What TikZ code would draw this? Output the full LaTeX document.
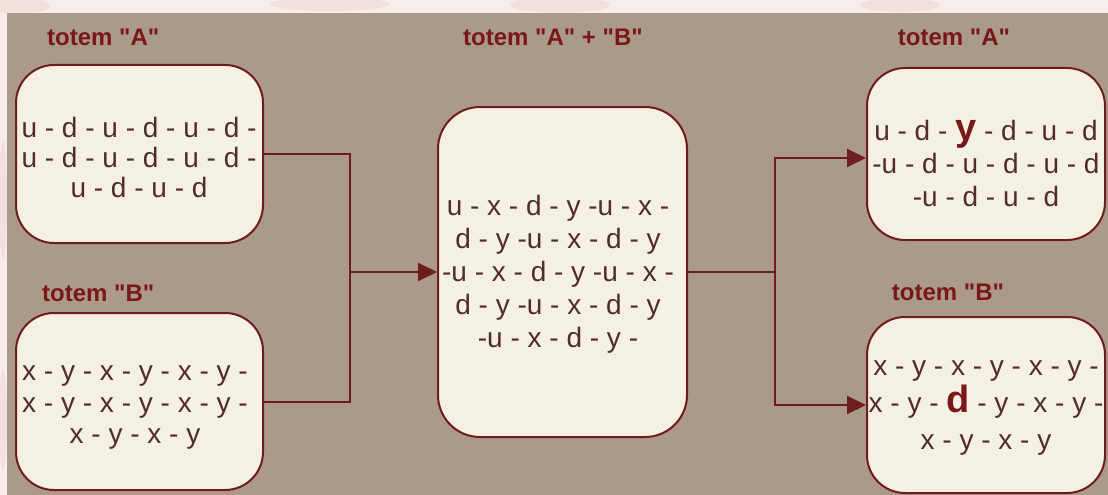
\documentclass[tikz,border=0pt]{standalone}
\usepackage{fontspec}
\setmainfont{Liberation Sans}[Ligatures=TeXOff]
\usetikzlibrary{arrows.meta}
\definecolor{bg}{HTML}{AB9A8A}
\definecolor{paper}{HTML}{F5F0E4}
\definecolor{edgec}{HTML}{6E1C1C}
\definecolor{titlec}{HTML}{7A1818}
\definecolor{ink}{HTML}{522C2A}
\definecolor{strip}{HTML}{F7EEEC}
\definecolor{pinkish}{HTML}{F0D2D0}
\begin{document}
\begin{tikzpicture}[x=1pt,y=-1pt,
  box/.style={draw=edgec, line width=2pt, fill=paper, rounded corners=38pt, inner sep=0pt},
  ttl/.style={font=\fontsize{24}{28}\selectfont\bfseries, text=titlec, inner sep=0pt},
  txt/.style={font=\fontsize{28}{30}\selectfont, text=ink, align=center, inner sep=0pt},
  txtw/.style={font=\fontsize{28}{33}\selectfont, text=ink, align=center, inner sep=0pt},
  conn/.style={draw=edgec, line width=2pt},
  arr/.style={conn, -{Triangle[length=19pt,width=18pt]}}]
\useasboundingbox (0,0) rectangle (1108,495);
\fill[strip] (0,0) rectangle (1108,495);
\fill[pinkish, opacity=0.5] (20,6) ellipse (30 and 8);
\fill[pinkish, opacity=0.5] (330,4) ellipse (60 and 7);
\fill[pinkish, opacity=0.5] (560,5) ellipse (50 and 8);
\fill[pinkish, opacity=0.5] (900,5) ellipse (40 and 7);
\fill[pinkish, opacity=0.5] (3,200) ellipse (4 and 60);
\fill[pinkish, opacity=0.5] (3,420) ellipse (4 and 50);
\fill[bg] (7,13) rectangle (1108,495);

% titles
\node[ttl, anchor=west] (tA) at (47,37) {totem "A"};
\node[ttl, anchor=west] (tB) at (42,293) {totem "B"};
\node[ttl] (tAB) at (553,37) {totem "A" + "B"};
\node[ttl] (tRA) at (954,37) {totem "A"};
\node[ttl] (tRB) at (948,292) {totem "B"};

% boxes
\node[box, minimum width=247pt, minimum height=178pt] (boxA) at (139.5,154) {};
\node[box, minimum width=247pt, minimum height=177pt] (boxB) at (139.5,401.5) {};
\node[box, minimum width=249pt, minimum height=330pt, rounded corners=42pt] (boxC) at (562.5,272) {};
\node[box, minimum width=238pt, minimum height=172pt] (boxRA) at (986,154) {};
\node[box, minimum width=238pt, minimum height=176pt] (boxRB) at (986,405) {};

% texts
\node[txt] (xA) at (139,157) {u - d - u - d - u - d -\\u - d - u - d - u - d -\\u - d - u - d};
\node[txt, font=\fontsize{28}{31.5}\selectfont] (xB) at (135,408) {x - y - x - y - x - y -\\x - y - x - y - x - y -\\x - y - x - y};
\node[txtw] (xC) at (558,274) {u - x - d - y -u - x -\\d - y -u - x - d - y\\-u - x - d - y -u - x -\\d - y -u - x - d - y\\-u - x - d - y -};
\node[txtw] (xRA) at (986,163) {u - d - {\color{titlec}\bfseries\fontsize{38}{38}\selectfont y} - d - u - d\\-u - d - u - d - u - d\\-u - d - u - d};
\node[txt, font=\fontsize{28}{37}\selectfont] (xRB) at (986,408) {x - y - x - y - x - y -\\x - y - {\color{titlec}\bfseries\fontsize{38}{38}\selectfont d} - y - x - y -\\x - y - x - y};

% connectors
\coordinate (jL) at (350,272);
\coordinate (jR) at (775,272);
\draw[conn] (boxA.east) -| (jL) |- (boxB.east);
\draw[arr] (jL) -- (boxC.west);
\draw[conn] (boxC.east) -- (jR);
\draw[arr] (jR) |- ([yshift=-4pt]boxRA.west);
\draw[arr] (jR) |- (boxRB.west);
\end{tikzpicture}
\end{document}
